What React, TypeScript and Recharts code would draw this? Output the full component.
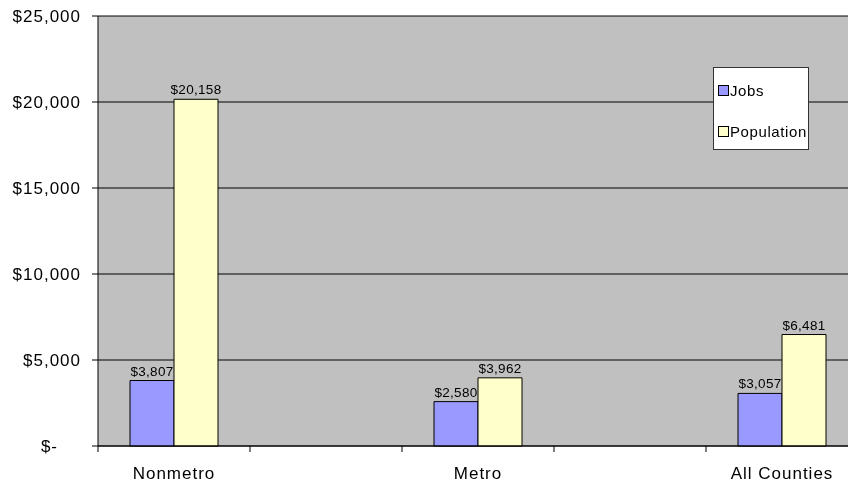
import React from 'react';
import { BarChart, Bar, XAxis, YAxis, CartesianGrid, Legend, LabelList } from 'recharts';

// values (blank categories are the spacer slots)
const categories = ['Nonmetro', '', 'Metro', '', 'All Counties'];
const jobs = [3807, null, 2580, null, 3057];
const population = [20158, null, 3962, null, 6481];
const yTicks = [0, 5000, 10000, 15000, 20000, 25000];

const data = categories.map((name, i) => ({
  key: `c${i}`,
  name,
  jobs: jobs[i],
  population: population[i],
}));

const FONT = '"Liberation Sans", Arial, sans-serif';
const CHART_W = 860;
const CHART_H = 475;
const Y_AXIS_W = 90;
const RIGHT = 10;
const BAND = (CHART_W - Y_AXIS_W - RIGHT) / categories.length;

const money = (v: number) => `$${v.toLocaleString('en-US')}`;

const YTick = (props: any) => {
  const { x, y, payload } = props;
  const v = payload.value as number;
  const label = v === 0 ? '$-' : money(v);
  return (
    <text x={v === 0 ? x - 22 : x + 1} y={y} dy="0.36em" textAnchor="end" fontSize={17} letterSpacing={1} fill="#000" fontFamily={FONT}>
      {label}
    </text>
  );
};

// tick marks sit on the category boundaries, label in the middle
const XTick = (props: any) => {
  const { x, y, index } = props;
  const left = x - BAND / 2;
  return (
    <g>
      <line x1={left} x2={left} y1={y - 8} y2={y - 2} stroke="#000" />
      {index === categories.length - 1 && (
        <line x1={x + BAND / 2} x2={x + BAND / 2} y1={y - 8} y2={y - 2} stroke="#000" />
      )}
      <text x={x} y={y + 19} dy="0.36em" textAnchor="middle" fontSize={17} letterSpacing={1} fill="#000" fontFamily={FONT}>
        {categories[index]}
      </text>
    </g>
  );
};

const LegendBox = () => (
  <div
    style={{
      width: 96,
      height: 83,
      boxSizing: 'border-box',
      background: '#fff',
      border: '1px solid #333',
      fontFamily: FONT,
      fontSize: 15,
      letterSpacing: 0.6,
      position: 'relative',
    }}
  >
    {[
      { name: 'Jobs', color: '#9999FF', top: 14 },
      { name: 'Population', color: '#FFFFCC', top: 55 },
    ].map((it) => (
      <div key={it.name} style={{ position: 'absolute', left: 4, top: it.top, display: 'flex', alignItems: 'center', whiteSpace: 'nowrap' }}>
        <span style={{ width: 9, height: 9, background: it.color, border: '1px solid #000', display: 'inline-block', marginRight: 1 }} />
        <span>{it.name}</span>
      </div>
    ))}
  </div>
);

export default function App() {
  // fixed so the clipped plot area never triggers scrollbars
  return (
    <div style={{ position: 'fixed', left: 8, top: 8, width: 840, height: 475, overflow: 'hidden' }}>
      <BarChart
        width={CHART_W}
        height={CHART_H}
        data={data}
        margin={{ top: 8, right: RIGHT, bottom: 0, left: 0 }}
        barCategoryGap={32}
        barGap={0}
      >
        <CartesianGrid vertical={false} stroke="#000" fill="#C0C0C0" fillOpacity={1} />
        <XAxis
          dataKey="key"
          height={37}
          axisLine={{ stroke: '#000' }}
          tickLine={false}
          tick={<XTick />}
          interval={0}
        />
        <YAxis
          width={Y_AXIS_W}
          domain={[0, 25000]}
          ticks={yTicks}
          interval={0}
          axisLine={{ stroke: '#000' }}
          tickLine={{ stroke: '#000' }}
          tickSize={6}
          tickMargin={12}
          tick={<YTick />}
        />
        <Legend
          layout="vertical"
          align="center"
          verticalAlign="middle"
          content={<LegendBox />}
          wrapperStyle={{ left: 705, top: 59, width: 96, height: 83 }}
        />
        <Bar dataKey="jobs" name="Jobs" fill="#9999FF" stroke="#000" strokeWidth={1} isAnimationActive={false}>
          <LabelList
            dataKey="jobs"
            position="top"
            offset={5}
            formatter={(v: any) => (v == null ? '' : money(v))}
            style={{ fontSize: 13.5, letterSpacing: 0.3, fill: '#000', fontFamily: FONT }}
          />
        </Bar>
        <Bar dataKey="population" name="Population" fill="#FFFFCC" stroke="#000" strokeWidth={1} isAnimationActive={false}>
          <LabelList
            dataKey="population"
            position="top"
            offset={5}
            formatter={(v: any) => (v == null ? '' : money(v))}
            style={{ fontSize: 13.5, letterSpacing: 0.3, fill: '#000', fontFamily: FONT }}
          />
        </Bar>
      </BarChart>
    </div>
  );
}
